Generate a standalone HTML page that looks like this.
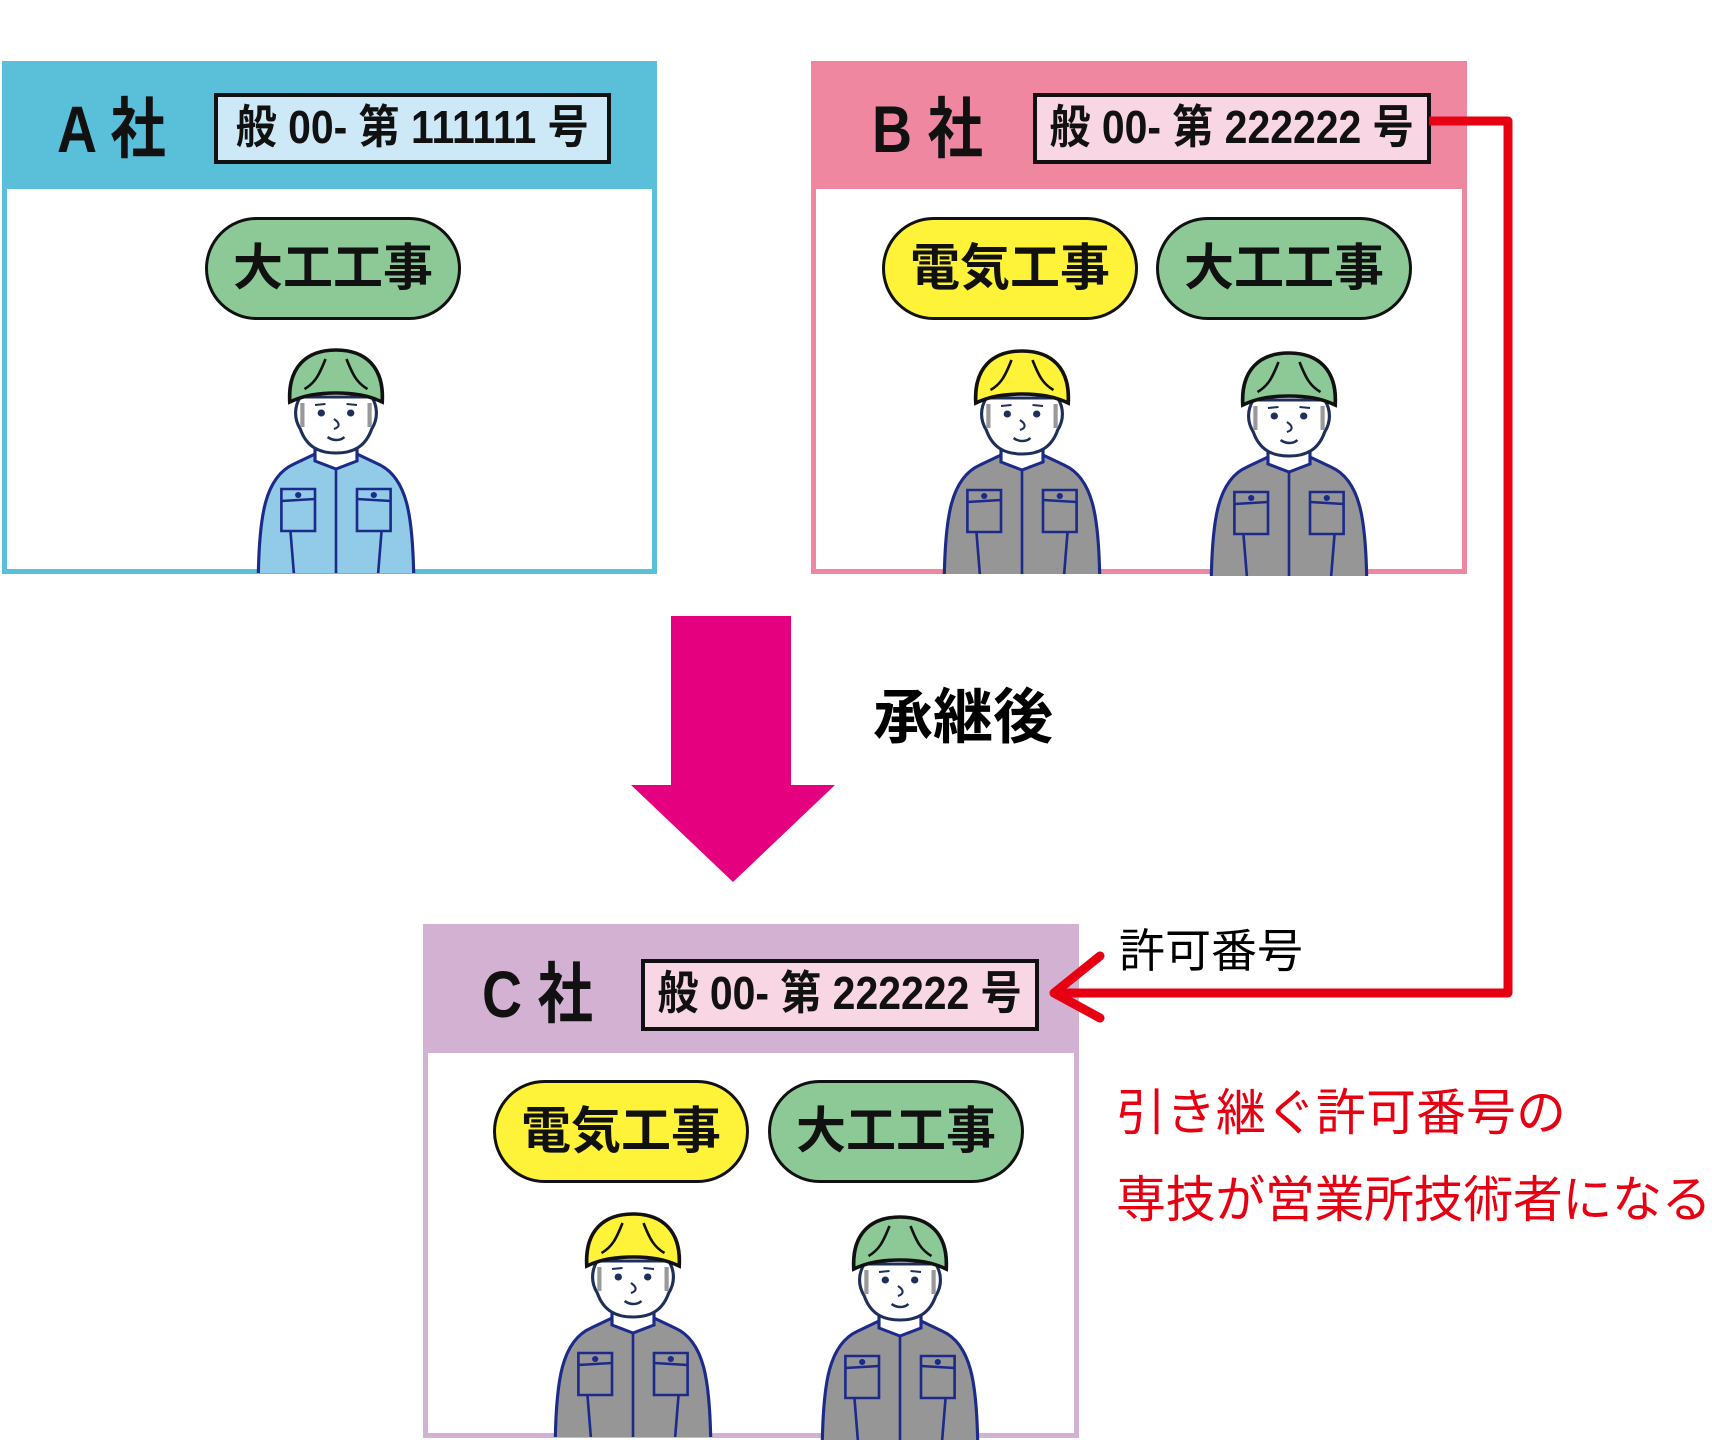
<!DOCTYPE html>
<html><head><meta charset="utf-8">
<style>
body{margin:0;width:1712px;height:1438px;background:#fff;position:relative;overflow:hidden;font-family:"Liberation Sans","Noto Sans CJK JP",sans-serif;}
.abs{position:absolute;box-sizing:border-box;}
.box{border:5px solid;}
.hdr{position:absolute;left:0;top:0;right:0;}
.lbl{position:absolute;font-weight:bold;font-size:66px;line-height:1;white-space:nowrap;color:#111;transform:scaleX(0.84);transform-origin:left top;}
.num{position:absolute;box-sizing:border-box;border:4px solid #111;font-weight:bold;font-size:46px;line-height:60px;white-space:nowrap;color:#111;overflow:hidden;text-align:center;}
.num span{display:inline-block;transform:scaleX(0.89);transform-origin:center center;margin:0 -40px;}
.pill{position:absolute;width:256px;height:103px;border:3px solid #111;border-radius:52px;box-sizing:border-box;font-weight:bold;font-size:50px;line-height:97px;text-align:center;color:#111;}
.y{background:#fff33a;}.g{background:#8cc997;}
.w{position:absolute;width:168px;height:226px;}
.red{position:absolute;color:#e60012;font-size:50px;white-space:nowrap;line-height:1;}
</style></head><body>
<svg width="0" height="0" style="position:absolute">
<defs>
<symbol id="wk" viewBox="0 0 160 226" preserveAspectRatio="none">
<path d="M6,228 C7,170 12,130 40,117 L62,106 L98,106 L120,117 C148,130 153,170 154,228 Z" style="fill:var(--s)" stroke="#1c2a8a" stroke-width="3"/>
<path d="M80,120 L80,228 M34,150 L40,228 M126,150 L120,228" stroke="#1c2a8a" stroke-width="2.5" fill="none"/>
<rect x="28" y="142" width="32" height="42" style="fill:var(--s)" stroke="#1c2a8a" stroke-width="2.5"/>
<rect x="100" y="142" width="32" height="42" style="fill:var(--s)" stroke="#1c2a8a" stroke-width="2.5"/>
<path d="M28,154 L60,152 M100,152 L132,154" stroke="#1c2a8a" stroke-width="2.5"/>
<circle cx="44" cy="148" r="3" fill="#1c2a8a"/><circle cx="116" cy="148" r="3" fill="#1c2a8a"/>
<path d="M60,98 L60,114 L80,122 L100,114 L100,98 Z" fill="#fff" stroke="#1c2a8a" stroke-width="3"/>
<path d="M46,50 C40,60 40,72 46,82 C52,100 64,106 80,106 C96,106 108,100 114,82 C120,72 120,60 114,50 Z" fill="#fff" stroke="#1e2f5a" stroke-width="3"/>
<path d="M48,56 L48,80 M112,56 L112,80" stroke="#999" stroke-width="4"/>
<circle cx="66" cy="66" r="3.5" fill="#1e2f5a"/><circle cx="94" cy="66" r="3.5" fill="#1e2f5a"/>
<path d="M60,58 L70,57 M90,57 L100,58" stroke="#1e2f5a" stroke-width="2"/>
<path d="M78,72 C84,76 84,80 78,82" stroke="#1e2f5a" stroke-width="2" fill="none"/>
<path d="M72,90 C77,94 84,94 88,90" stroke="#1e2f5a" stroke-width="2.5" fill="none"/>
<path d="M36,55 C34,20 52,3 80,3 C108,3 126,20 124,55 C110,48 96,46 80,46 C64,46 50,48 36,55 Z" style="fill:var(--h)" stroke="#111" stroke-width="3.5"/>
<path d="M70,12 C64,28 60,36 50,42 M90,12 C96,28 100,36 110,42" stroke="#111" stroke-width="2.5" fill="none"/>
</symbol>
</defs></svg>

<!-- A -->
<div class="abs box" style="left:2px;top:61px;width:655px;height:513px;border-color:#5ac0da;">
 <div class="hdr" style="height:123px;background:#5ac0da;"></div>
 <div class="lbl" style="left:50px;top:30px;">A 社</div>
 <div class="num" style="left:207px;top:27px;width:397px;height:71px;background:#cde9f7;"><span>般 00- 第 111111 号</span></div>
</div>
<div class="pill g" style="left:205px;top:217px;">大工工事</div>
<svg class="w" style="left:252px;top:347px;--h:#8cc997;--s:#92cbe8"><use href="#wk"/></svg>

<!-- B -->
<div class="abs box" style="left:811px;top:61px;width:656px;height:513px;border-color:#ee879f;">
 <div class="hdr" style="height:123px;background:#ee879f;"></div>
 <div class="lbl" style="left:56px;top:30px;">B 社</div>
 <div class="num" style="left:217px;top:27px;width:398px;height:71px;background:#f8d6e3;"><span>般 00- 第 222222 号</span></div>
</div>
<div class="pill y" style="left:882px;top:217px;">電気工事</div>
<div class="pill g" style="left:1156px;top:217px;">大工工事</div>
<svg class="w" style="left:938px;top:348px;--h:#fff33a;--s:#969696"><use href="#wk"/></svg>
<svg class="w" style="left:1205px;top:350px;--h:#8cc997;--s:#969696"><use href="#wk"/></svg>

<!-- C -->
<div class="abs box" style="left:423px;top:924px;width:656px;height:514px;border-color:#d3b1d3;">
 <div class="hdr" style="height:124px;background:#d3b1d3;"></div>
 <div class="lbl" style="left:54px;top:32px;">C 社</div>
 <div class="num" style="left:213px;top:30px;width:398px;height:72px;background:#f8d6e3;"><span>般 00- 第 222222 号</span></div>
</div>
<div class="pill y" style="left:493px;top:1080px;">電気工事</div>
<div class="pill g" style="left:768px;top:1080px;">大工工事</div>
<svg class="w" style="left:549px;top:1211px;--h:#fff33a;--s:#969696"><use href="#wk"/></svg>
<svg class="w" style="left:816px;top:1214px;--h:#8cc997;--s:#969696"><use href="#wk"/></svg>

<!-- arrows on top -->
<svg class="abs" style="left:0;top:0;z-index:5" width="1712" height="1438">
<polygon points="671,616 791,616 791,785 835,785 733,882 631,785 671,785" fill="#e4007f"/>
<polyline points="1429,121 1508,121 1508,993 1056,993" fill="none" stroke="#e60012" stroke-width="9" stroke-linejoin="round"/>
<polyline points="1100,956 1054,993 1100,1018" fill="none" stroke="#e60012" stroke-width="9" stroke-linecap="round" stroke-linejoin="round"/>
</svg>
<div class="abs" style="left:873px;top:688px;font-size:60px;font-weight:bold;line-height:1;">承継後</div>

<div class="abs" style="left:1119px;top:928px;font-size:46px;line-height:1;white-space:nowrap;">許可番号</div>
<div class="red" style="left:1116px;top:1088px;">引き継ぐ許可番号の</div>
<div class="red" style="left:1116px;top:1175px;letter-spacing:-0.4px;">専技が営業所技術者になる</div>
</body></html>
